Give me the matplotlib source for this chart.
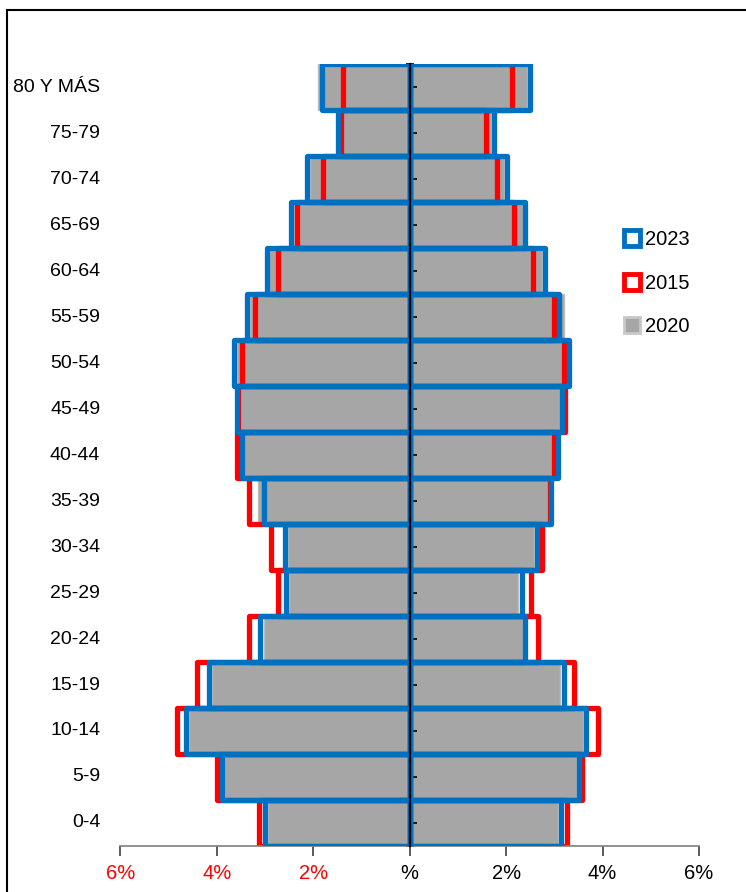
import matplotlib
matplotlib.use("Agg")
import matplotlib.pyplot as plt
import matplotlib.transforms as mtransforms
from matplotlib.lines import Line2D
import numpy as np

plt.rcParams['font.family'] = ['Liberation Sans', 'DejaVu Sans']

ages = ["0-4", "5-9", "10-14", "15-19", "20-24", "25-29", "30-34", "35-39", "40-44",
        "45-49", "50-54", "55-59", "60-64", "65-69", "70-74", "75-79", "80 Y MÁS"]

# left side (%)
left_2023 = [3.01, 3.90, 4.64, 4.16, 3.10, 2.56, 2.58, 3.03, 3.48, 3.59, 3.65, 3.37, 2.97, 2.47, 2.14, 1.49, 1.83]
left_2015 = [3.12, 3.99, 4.83, 4.41, 3.34, 2.73, 2.88, 3.33, 3.59, 3.57, 3.47, 3.20, 2.73, 2.33, 1.80, 1.42, 1.38]
left_2020 = [2.95, 3.85, 4.58, 4.10, 3.03, 2.50, 2.53, 3.15, 3.45, 3.55, 3.59, 3.32, 2.92, 2.41, 2.06, 1.45, 1.90]

# right side (%)
right_2023 = [3.14, 3.52, 3.66, 3.19, 2.40, 2.32, 2.63, 2.93, 3.07, 3.16, 3.30, 3.10, 2.80, 2.40, 2.02, 1.74, 2.49]
right_2015 = [3.27, 3.58, 3.90, 3.41, 2.66, 2.51, 2.74, 2.90, 3.00, 3.22, 3.19, 2.99, 2.56, 2.16, 1.81, 1.58, 2.12]
right_2020 = [3.08, 3.47, 3.60, 3.12, 2.35, 2.25, 2.58, 2.88, 3.00, 3.12, 3.22, 3.20, 2.74, 2.34, 1.96, 1.68, 2.43]

xticks = [-6, -4, -2, 0, 2, 4, 6]
xtick_labels = ["6%", "4%", "2%", "%", "2%", "4%", "6%"]

BLUE = "#0070C0"
RED = "#FF0000"
GRAY = "#A6A6A6"

fig = plt.figure(figsize=(7.46, 8.92), dpi=100)
ax = fig.add_axes([0.1615, 0.0516, 0.7755, 0.8765])

y = np.arange(len(ages))

# 2020 filled grey
for vals, sign in [(left_2020, -1), (right_2020, 1)]:
    ax.barh(y, sign * np.array(vals), height=1.0, color=GRAY, edgecolor="#BDBDBD",
            linewidth=1.0, zorder=1)
# 2015 red outline
for vals, sign in [(left_2015, -1), (right_2015, 1)]:
    ax.barh(y, sign * np.array(vals), height=1.0, fill=False, edgecolor=RED,
            linewidth=3.8, joinstyle="round", zorder=2)
# 2023 blue outline
for vals, sign in [(left_2023, -1), (right_2023, 1)]:
    ax.barh(y, sign * np.array(vals), height=1.0, fill=False, edgecolor=BLUE,
            linewidth=3.8, joinstyle="round", zorder=3)

ax.set_xlim(-6, 6)
ax.set_ylim(-0.5, len(ages) - 0.5)

# axes styling
ax.spines["top"].set_visible(False)
ax.spines["right"].set_visible(False)
ax.spines["left"].set_position(("data", 0))
ax.spines["left"].set_linewidth(1.6)
ax.spines["left"].set_color("black")
ax.spines["left"].set_zorder(5)
ax.spines["bottom"].set_color("#7f7f7f")
ax.spines["bottom"].set_linewidth(1.2)

ax.set_yticks(y)
ax.set_yticklabels([])
ax.set_yticks(np.arange(-0.5, len(ages)), minor=True)
ax.tick_params(axis="y", which="major", direction="in", length=5, width=1.2, color="black")
ax.tick_params(axis="y", which="minor", direction="inout", length=6, width=1.2, color="black")

ax.set_xticks(xticks)
ax.set_xticklabels(xtick_labels, fontsize=14.5)
ax.tick_params(axis="x", direction="out", length=7, width=1.2, color="#404040", pad=6)
for lbl, xv in zip(ax.get_xticklabels(), xticks):
    lbl.set_color(RED if xv < 0 else "black")

# age labels at the far left
trans = mtransforms.blended_transform_factory(ax.transAxes, ax.transData)
for yi, name in zip(y, ages):
    ax.text(-0.035, yi, name, transform=trans, ha="right", va="center", fontsize=14)

# legend
handles = [
    Line2D([], [], linestyle="none", marker="s", markersize=11, markerfacecolor="white",
           markeredgecolor=BLUE, markeredgewidth=3.5),
    Line2D([], [], linestyle="none", marker="s", markersize=11, markerfacecolor="white",
           markeredgecolor=RED, markeredgewidth=3.5),
    Line2D([], [], linestyle="none", marker="s", markersize=11, markerfacecolor=GRAY,
           markeredgecolor="#C8C8C8", markeredgewidth=2),
]
fig.legend(handles, ["2023", "2015", "2020"], loc="upper left",
           bbox_to_anchor=(0.824, 0.751), frameon=False, fontsize=14.5,
           handlelength=0.9, handletextpad=0.2, labelspacing=1.22, borderaxespad=0)

# outer frame lines
fig.add_artist(Line2D([7 / 746, 7 / 746], [0, 1 - 10 / 892], transform=fig.transFigure,
                      color="black", linewidth=1.5))
fig.add_artist(Line2D([7 / 746, 1], [1 - 10 / 892, 1 - 10 / 892], transform=fig.transFigure,
                      color="black", linewidth=1.5))

fig.savefig("out.png", dpi=100)
